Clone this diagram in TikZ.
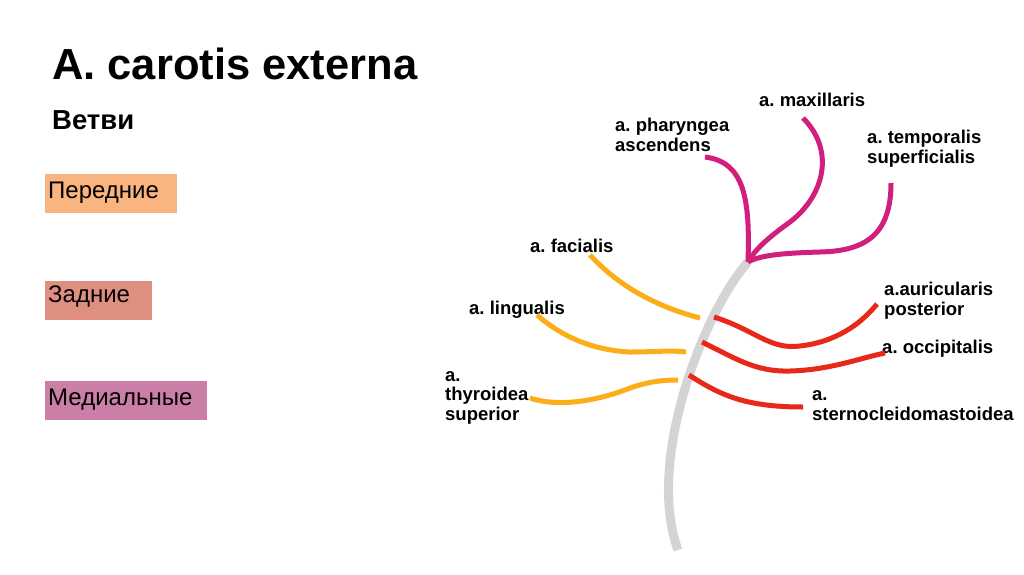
\documentclass[tikz,border=0pt]{standalone}
\usepackage{fontspec}
\setmainfont{Liberation Sans}
\frenchspacing
\definecolor{trunkgray}{RGB}{212,212,212}
\definecolor{antorange}{RGB}{251,174,23}
\definecolor{postred}{RGB}{232,40,24}
\definecolor{medmagenta}{RGB}{210,30,124}
\definecolor{boxpeach}{RGB}{249,180,128}
\definecolor{boxrose}{RGB}{222,143,128}
\definecolor{boxmauve}{RGB}{203,127,166}
\begin{document}
\begin{tikzpicture}[x=1pt,y=-1pt,
  lbl/.style={font=\bfseries\fontsize{18.5}{19.5}\selectfont, inner sep=0pt, anchor=base west, align=left},
  catbox/.style={font=\fontsize{24}{28}\selectfont, anchor=base west, inner xsep=3pt, inner ysep=0pt, align=left},
  trunkline/.style={draw=trunkgray, line width=9pt},
  branch/.style={line width=5pt, line cap=butt},
  antb/.style={branch, draw=antorange},
  postb/.style={branch, draw=postred},
  medb/.style={branch, draw=medmagenta}]
\useasboundingbox (0,0) rectangle (1024,574);
\fill[white] (0,0) rectangle (1024,574);

% titles
\node[font=\bfseries\fontsize{43.5}{48}\selectfont, inner sep=0pt, anchor=base west] (title) at (52,79) {A. carotis externa};
\node[font=\bfseries\fontsize{27.5}{30}\selectfont, inner sep=0pt, anchor=base west] (sub) at (52,129) {Ветви};

% category boxes
\node[catbox, fill=boxpeach, text height=24pt, text depth=15pt, text width=126pt] (cant) at (45,198) {Передние};
\node[catbox, fill=boxrose, text height=21pt, text depth=18pt, text width=101pt] (cpost) at (45,302) {Задние};
\node[catbox, fill=boxmauve, text height=24pt, text depth=15pt, text width=156pt] (cmed) at (45,405) {Медиальные};

% labels (multi-line: anchor at baseline of last line)
\node[lbl] (lmax) at (759,106) {a. maxillaris};
\node[lbl] (lphar) at (615,151) {a. pharyngea\\ascendens};
\node[lbl] (ltemp) at (867,163) {a. temporalis\\superficialis};
\node[lbl] (lfac) at (530,252) {a. facialis};
\node[lbl] (lling) at (469,314) {a. lingualis};
\node[lbl] (lthyr) at (445,420) {a.\\thyroidea\\superior};
\node[lbl] (laur) at (884,315) {a.auricularis\\posterior};
\node[lbl] (locc) at (882,353) {a. occipitalis};
\node[lbl] (lster) at (812,420) {a.\\sternocleidomastoidea};

% coordinates
\coordinate (ttop) at (748,262);
\coordinate (tbot) at (678,550);
\coordinate (pphar) at (705,157);
\coordinate (pmax) at (803,118);
\coordinate (ptemp) at (891,183);
\coordinate (pfac) at (590,255);
\coordinate (efac) at (700,318);
\coordinate (pling) at (537,315);
\coordinate (eling) at (686,352);
\coordinate (pthyr) at (530,398);
\coordinate (ethyr) at (678,380);
\coordinate (saur) at (714,317);
\coordinate (paur) at (877,304);
\coordinate (socc) at (702,342);
\coordinate (pocc) at (885,353);
\coordinate (sster) at (689,375);
\coordinate (pster) at (803,407);

% trunk
\draw[trunkline] (ttop) .. controls (705,310) and (645,460) .. (tbot);

% medial (magenta)
\draw[medb] (pphar) .. controls (745,162) and (750,200) .. (ttop);
\draw[medb] (pmax) .. controls (835,150) and (825,195) .. (790,222) .. controls (765,240) and (755,250) .. (ttop);
\draw[medb] (ptemp) .. controls (891,235) and (865,251) .. (820,252) .. controls (785,253) and (760,255) .. (ttop);

% anterior (orange)
\draw[antb] (pfac) .. controls (615,282) and (650,305) .. (efac);
\draw[antb] (pling) .. controls (560,335) and (590,350) .. (630,352) .. controls (655,352) and (670,350) .. (eling);
\draw[antb] (pthyr) .. controls (560,408) and (600,400) .. (630,388) .. controls (650,381) and (665,380) .. (ethyr);

% posterior (red)
\draw[postb] (saur) .. controls (755,330) and (770,350) .. (800,346) .. controls (835,342) and (860,325) .. (paur);
\draw[postb] (socc) .. controls (735,358) and (755,372) .. (790,371) .. controls (830,370) and (860,358) .. (pocc);
\draw[postb] (sster) .. controls (720,395) and (745,407) .. (pster);
\end{tikzpicture}
\end{document}
